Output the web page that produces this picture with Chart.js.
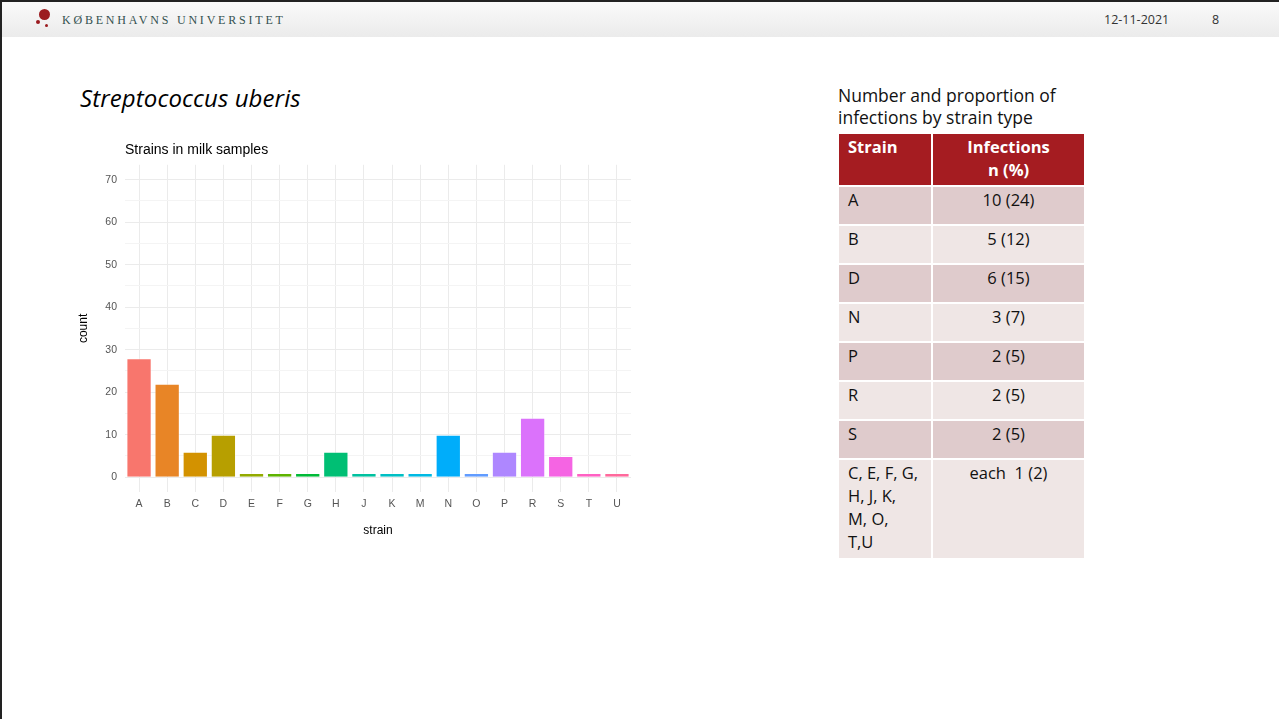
<!DOCTYPE html>
<html>
<head>
<meta charset="utf-8">
<script src="https://cdn.jsdelivr.net/npm/chart.js@4/dist/chart.umd.min.js"></script>
<style>
	body { margin: 0; width: 1279px; height: 719px; background: #fff; position: relative; overflow: hidden; font-family: 'Open Sans', 'Noto Sans', sans-serif; }
	#frame { position: absolute; left: 0; top: 0; width: 1279px; height: 719px; border-left: 2px solid #222; border-top: 2px solid #222; box-sizing: border-box; }
	#topbar { position: absolute; left: 2px; top: 2px; width: 1277px; height: 35px; background: linear-gradient(#fafafa, #ebebeb); }
	.dot { position: absolute; border-radius: 50%; background: #9b1b1f; }
	#ku { position: absolute; left: 62px; top: 13px; font-family: 'Liberation Serif', 'DejaVu Serif', serif; font-size: 12px; letter-spacing: 2.8px; color: #33504f; }
	#date { position: absolute; left: 1104px; top: 11px; font-size: 12.5px; color: #333; }
	#page { position: absolute; left: 1212px; top: 11px; font-size: 12.5px; color: #333; }
	#heading { position: absolute; left: 80px; top: 81px; font-size: 24px; font-style: italic; letter-spacing: 0.1px; color: #000; }
	#wrap { position: absolute; left: 70px; top: 136px; width: 580px; height: 410px; }
	#tcap { position: absolute; left: 838px; top: 85px; font-size: 17.5px; line-height: 21.5px; color: #111; }
	table { position: absolute; left: 837px; top: 132px; border-collapse: collapse; font-size: 16.5px; color: #111; }
	td, th { border: 2px solid #fff; padding: 1px 9px 0 9px; vertical-align: top; line-height: 23px; }
	th { background: #a51c21; color: #fff; font-weight: bold; height: 50px; text-align: left; }
	th.c { text-align: center; }
	td { height: 36px; }
	td.c { text-align: center; }
	tr.d td { background: #dfcbcc; }
	tr.l td { background: #efe6e5; }
</style>
</head>
<body>
<div id="frame"></div>
<div id="topbar"></div>
<div class="dot" style="left:39px;top:9px;width:11px;height:11px;"></div>
<div class="dot" style="left:36px;top:20px;width:4px;height:4px;"></div>
<div class="dot" style="left:45px;top:24px;width:3px;height:3px;"></div>
<div id="ku">KØBENHAVNS UNIVERSITET</div>
<div id="date">12-11-2021</div>
<div id="page">8</div>
<div id="heading">Streptococcus uberis</div>
<div id="wrap"><canvas id="myChartStrains"></canvas></div>
<div id="tcap">Number and proportion of<br>infections by strain type</div>
<table id="tabla"></table>
<script>
// bar chart data
var strains = ['A', 'B', 'C', 'D', 'E', 'F', 'G', 'H', 'J', 'K', 'M', 'N', 'O', 'P', 'R', 'S', 'T', 'U'];
var counts = [28, 22, 6, 10, 1, 1, 1, 6, 1, 1, 1, 10, 1, 6, 14, 5, 1, 1];
var yTicks = [0, 5, 10, 15, 20, 25, 30, 35, 40, 45, 50, 55, 60, 65, 70];
// ggplot hue palette, 18 colours
var colores = ['#F8766D', '#E88526', '#D39200', '#B79F00', '#93AA00', '#5EB300', '#00BA38', '#00BF74', '#00C19F',
	'#00BFC4', '#00B9E3', '#00ADFA', '#619CFF', '#AE87FF', '#DB72FB', '#F564E3', '#FF61C3', '#FF699C'];

// table data
var tableStrains = ['A', 'B', 'D', 'N', 'P', 'R', 'S', 'C, E, F, G,<br>H, J, K,<br>M, O,<br>T,U'];
var tableInfections = ['10 (24)', '5 (12)', '6 (15)', '3 (7)', '2 (5)', '2 (5)', '2 (5)', 'each&nbsp; 1 (2)'];

var html = '<tr><th style="width:74px">Strain</th><th class="c" style="width:133px">Infections<br>n (%)</th></tr>';
tableStrains.forEach(function (s, i) {
	var cls = i % 2 == 0 ? 'd' : 'l';
	var h = '';
	if (i == tableStrains.length - 1) {
		cls = 'l';
		h = ' style="height:97px"';
	}
	html += '<tr class="' + cls + '"><td' + h + '>' + s + '</td><td class="c"' + h + '>' + tableInfections[i] + '</td></tr>';
});
document.getElementById('tabla').innerHTML = html;

var ctx = document.getElementById('myChartStrains');
var myChart = new Chart(ctx, {
	type: 'bar',
	data: {
		labels: strains,
		datasets: [
			{
				label: 'count',
				data: counts,
				backgroundColor: colores,
				borderColor: 'rgba(255,255,255,0.35)',
				borderWidth: 1,
				barPercentage: 0.9,
				categoryPercentage: 1,
			},
		],
	},
	options: {
		responsive: true,
		maintainAspectRatio: false,
		animation: false,
		layout: { padding: { left: 0, right: 19, top: 0, bottom: 0 } },
		plugins: {
			legend: { display: false },
			tooltip: { enabled: false },
			title: {
				display: true,
				fullSize: false,
				text: 'Strains in milk samples',
				align: 'start',
				color: '#000',
				font: { family: 'Liberation Sans', size: 14, weight: 'normal' },
				padding: { top: 6, bottom: 6 },
			},
		},
		scales: {
			x: {
				offset: true,
				border: { display: false },
				grid: { offset: false, color: '#ebebeb', drawTicks: false },
				ticks: { color: '#555', font: { family: 'Liberation Sans', size: 10.5 }, padding: 6 },
				title: {
					display: true,
					text: 'strain',
					color: '#000',
					font: { family: 'Liberation Sans', size: 12 },
					padding: { top: 5, bottom: 8 },
				},
				afterFit: function (scale) { scale.height = 54; },
			},
			y: {
				min: -3.5,
				max: 73.5,
				border: { display: false },
				afterBuildTicks: function (scale) {
					scale.ticks = yTicks.map(function (v) { return { value: v }; });
				},
				grid: {
					drawTicks: false,
					color: function (c) { return c.tick && c.tick.value % 10 == 0 ? '#ebebeb' : '#f4f4f4'; },
					lineWidth: 1,
				},
				ticks: {
					color: '#555',
					font: { family: 'Liberation Sans', size: 10.5 },
					padding: 8,
					callback: function (v) { return v % 10 == 0 ? v : ''; },
				},
				title: {
					display: true,
					text: 'count',
					color: '#000',
					font: { family: 'Liberation Sans', size: 12 },
					padding: { top: 6, bottom: 4 },
				},
				afterFit: function (scale) { scale.width = 55; },
			},
		},
	},
});
</script>
</body>
</html>
